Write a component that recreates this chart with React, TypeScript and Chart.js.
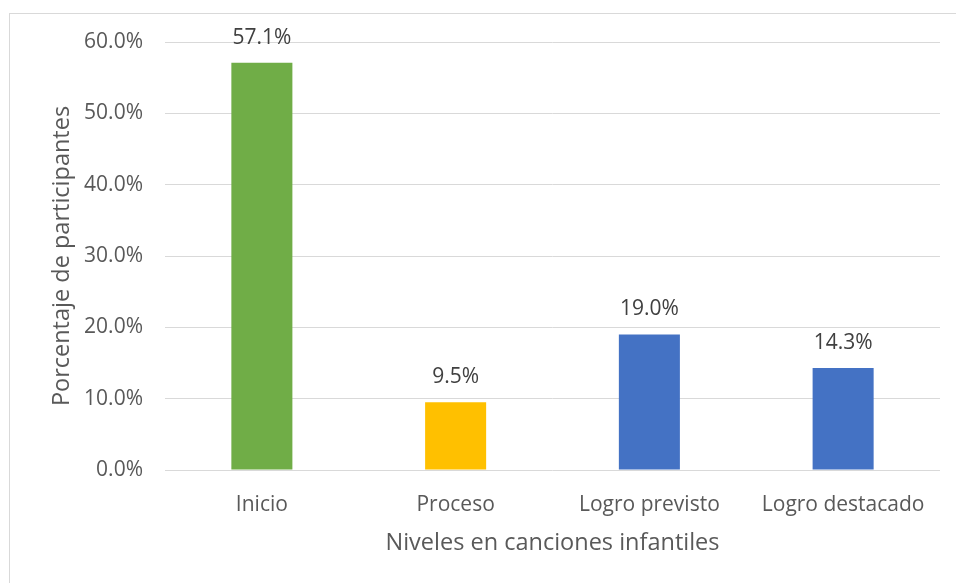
import React, { useEffect, useRef } from "react";
import { Chart, registerables } from "chart.js";

Chart.register(...registerables);

const categories = ["Inicio", "Proceso", "Logro previsto", "Logro destacado"];
const values = [57.1, 9.5, 19.0, 14.3];
const barColors = ["#70ad47", "#ffc000", "#4472c4", "#4472c4"];
const yTicks = [0, 10, 20, 30, 40, 50, 60];
const yTitle = "Porcentaje de participantes";
const xTitle = "Niveles en canciones infantiles";

const FONT = "'Open Sans', sans-serif";
const TEXT = "#595959";

const frame = {
  id: "frame",
  beforeDraw(chart: any) {
    const ctx = chart.ctx;
    ctx.save();
    ctx.fillStyle = "#ffffff";
    ctx.fillRect(0, 0, chart.width, chart.height);
    ctx.strokeStyle = "#d9d9d9";
    ctx.lineWidth = 1;
    ctx.strokeRect(9.5, 13.5, chart.width + 20, chart.height + 20);
    ctx.restore();
  },
};

const dataLabels = {
  id: "dataLabels",
  afterDatasetsDraw(chart: any) {
    const ctx = chart.ctx;
    const meta = chart.getDatasetMeta(0);
    ctx.save();
    ctx.fillStyle = "#404040";
    ctx.font = `21px ${FONT}`;
    ctx.textAlign = "center";
    ctx.textBaseline = "middle";
    meta.data.forEach((bar: any, i: number) => {
      ctx.fillText(values[i].toFixed(1) + "%", bar.x, bar.y - 25);
    });
    ctx.restore();
  },
};

export default function App() {
  const ref = useRef<HTMLCanvasElement>(null);
  useEffect(() => {
    if (!ref.current) return;
    const chart = new Chart(ref.current, {
      type: "bar",
      data: {
        labels: categories,
        datasets: [
          {
            data: values,
            backgroundColor: barColors,
            barPercentage: 0.315,
            categoryPercentage: 1,
          },
        ],
      },
      options: {
        responsive: false,
        animation: false,
        devicePixelRatio: 1,
        layout: { padding: { left: 40, right: 16, top: 42, bottom: 23 } },
        plugins: { legend: { display: false }, tooltip: { enabled: false } },
        scales: {
          x: {
            grid: { display: false },
            border: { display: false },
            ticks: { color: TEXT, font: { family: FONT, size: 21 }, padding: 14 },
            title: {
              display: true,
              text: xTitle,
              color: TEXT,
              font: { family: FONT, size: 23.5 },
              padding: { top: 4, bottom: 3 },
            },
            afterFit(scale: any) {
              scale.height = 90;
            },
          },
          y: {
            min: 0,
            max: 60,
            afterBuildTicks(scale: any) {
              scale.ticks = yTicks.map((v) => ({ value: v }));
            },
            grid: { color: "#d9d9d9", lineWidth: 1, drawTicks: false },
            border: { display: false },
            ticks: {
              color: TEXT,
              font: { family: FONT, size: 21 },
              padding: 22,
              callback: (v: any) => Number(v).toFixed(1) + "%",
            },
            title: {
              display: true,
              text: yTitle,
              color: TEXT,
              font: { family: FONT, size: 23.5 },
              padding: { top: 8, bottom: 0 },
            },
            afterFit(scale: any) {
              scale.width = 125;
            },
          },
        },
      },
      plugins: [frame, dataLabels],
    });
    return () => chart.destroy();
  }, []);
  return (
    <div style={{ position: "fixed", left: 0, top: 0, width: 956, height: 583 }}>
      <canvas ref={ref} width={956} height={583} style={{ display: "block" }} />
    </div>
  );
}
